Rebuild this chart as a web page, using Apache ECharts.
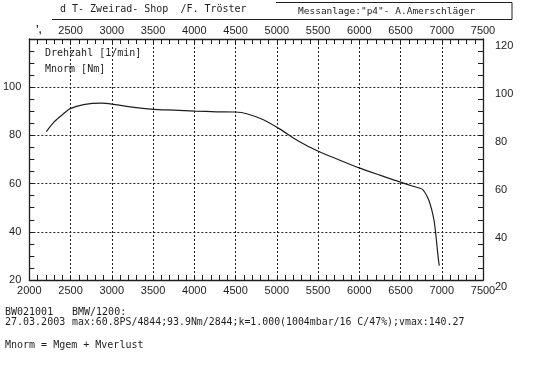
<!DOCTYPE html>
<html><head><meta charset="utf-8">
<script src="https://cdn.jsdelivr.net/npm/echarts@6/dist/echarts.min.js"></script>
<style>html,body{margin:0;padding:0;background:#fff}#c{width:550px;height:372px}</style>
</head><body><div id="c"></div>
<script>
const rpm = [2206, 2300, 2400, 2496, 2657, 2880, 3001, 3223, 3505, 3747, 4010, 4272, 4494, 4635, 4837, 5039, 5261, 5503, 5745, 5999, 6249, 6491, 6652, 6766, 6834, 6874, 6906, 6927, 6943, 6960, 6970];
const torque = [81.6, 85.6, 88.6, 91.1, 92.8, 93.4, 93.0, 91.8, 90.8, 90.5, 90.1, 89.8, 89.7, 89.0, 86.5, 82.6, 77.7, 73.4, 70.0, 66.5, 63.5, 60.7, 58.9, 57.6, 53.8, 49.7, 44.8, 39.3, 33.8, 28.3, 26.0];
const xTicks = [2000, 2500, 3000, 3500, 4000, 4500, 5000, 5500, 6000, 6500, 7000, 7500];
const yTicks = [20, 40, 60, 80, 100, 120];

const ink = '#1e1e1e';
const mono = '"DejaVu Sans Mono", "Liberation Mono", monospace';
const sans = '"Liberation Sans", Arial, sans-serif';

const chart = echarts.init(document.getElementById('c'), null, {renderer: 'canvas'});
const baseX = {
  type: 'value', min: xTicks[0], max: xTicks[xTicks.length - 1], interval: 500,
  axisLine: {show: true, lineStyle: {color: ink, width: 1.3}},
  axisTick: {show: true, inside: true, length: 5, lineStyle: {color: ink, width: 1}},
  minorTick: {show: true, splitNumber: 5, length: 5, lineStyle: {color: ink, width: 1}},
  axisLabel: {color: ink, fontFamily: sans, fontSize: 11, formatter: v => String(v)},
};
const baseY = {
  type: 'value', min: yTicks[0], max: yTicks[yTicks.length - 1], interval: 20,
  axisLine: {show: true, lineStyle: {color: ink, width: 1.3}},
  axisTick: {show: true, inside: true, length: 5, lineStyle: {color: ink, width: 1}},
  minorTick: {show: true, splitNumber: 4, length: 5, lineStyle: {color: ink, width: 1}},
  axisLabel: {color: ink, fontFamily: sans, fontSize: 11, formatter: v => String(v)},
};

chart.setOption({
  animation: false,
  backgroundColor: '#fff',
  grid: {left: 29, right: 67, top: 39, bottom: 92, containLabel: false},
  xAxis: [
    Object.assign({}, baseX, {position: 'bottom',
      splitLine: {show: true, lineStyle: {color: ink, type: [2, 2], width: 1}},
      axisLabel: Object.assign({}, baseX.axisLabel, {margin: 5})}),
    Object.assign({}, baseX, {position: 'top', splitLine: {show: false},
      axisLabel: Object.assign({}, baseX.axisLabel, {margin: 3,
        formatter: v => v === xTicks[0] ? '' : String(v)})})
  ],
  yAxis: [
    Object.assign({}, baseY, {position: 'left',
      splitLine: {show: true, lineStyle: {color: ink, type: [2, 2], width: 1}},
      axisLabel: Object.assign({}, baseY.axisLabel, {margin: 8,
        formatter: v => v === yTicks[yTicks.length - 1] ? '' : String(v)})}),
    Object.assign({}, baseY, {position: 'right', splitLine: {show: false},
      axisLabel: Object.assign({}, baseY.axisLabel, {margin: 12, verticalAlign: 'top', padding: [1, 0, 0, 0]})})
  ],
  series: [{
    type: 'line', xAxisIndex: 0, yAxisIndex: 0,
    data: rpm.map((r, i) => [r, torque[i]]),
    showSymbol: false, smooth: 0.25,
    lineStyle: {color: ink, width: 1.2}
  }],
  graphic: [
    {type: 'text', left: 60, top: 4, style: {text: 'd T- Zweirad- Shop  /F. Tröster', font: '10px ' + mono, fill: ink}},
    {type: 'line', shape: {x1: 52, y1: 19.5, x2: 512, y2: 19.5}, style: {stroke: ink, lineWidth: 1.2}},
    {type: 'line', shape: {x1: 276, y1: 2.5, x2: 512, y2: 2.5}, style: {stroke: ink, lineWidth: 1}},
    {type: 'line', shape: {x1: 512, y1: 2.5, x2: 512, y2: 19.5}, style: {stroke: ink, lineWidth: 1}},
    {type: 'text', left: 298, top: 7, style: {text: 'Messanlage:"p4"- A.Amerschläger', font: '9.5px ' + mono, fill: ink}},
    {type: 'text', left: 36, top: 25, style: {text: '’,', font: 'bold 10px ' + sans, fill: ink}},
    {type: 'text', left: 45, top: 48, style: {text: 'Drehzahl [1/min]', font: '10px ' + mono, fill: ink}},
    {type: 'text', left: 45, top: 64, style: {text: 'Mnorm [Nm]', font: '10px ' + mono, fill: ink}},
    {type: 'text', left: 5, top: 307, style: {text: 'BW021001', font: '10px ' + mono, fill: ink}},
    {type: 'text', left: 72, top: 307, style: {text: 'BMW/1200:', font: '10px ' + mono, fill: ink}},
    {type: 'text', left: 5, top: 317, style: {text: '27.03.2003', font: '10px ' + mono, fill: ink}},
    {type: 'text', left: 72, top: 317, style: {text: 'max:60.8PS/4844;93.9Nm/2844;k=1.000(1004mbar/16 C/47%);vmax:140.27', font: '9.9px ' + mono, fill: ink}},
    {type: 'text', left: 5, top: 340, style: {text: 'Mnorm = Mgem + Mverlust', font: '10px ' + mono, fill: ink}}
  ]
});
</script>
</body></html>
